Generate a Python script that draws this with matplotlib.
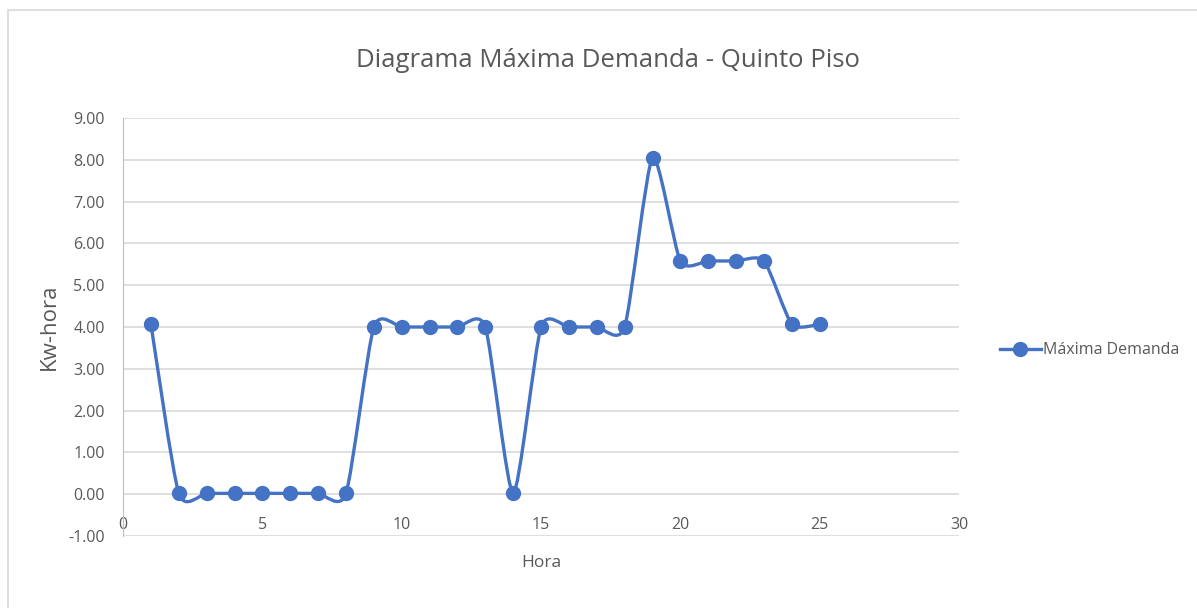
import matplotlib.pyplot as plt
from matplotlib.path import Path
from matplotlib.patches import PathPatch, Rectangle
from matplotlib.lines import Line2D

hora = [1, 2, 3, 4, 5, 6, 7, 8, 9, 10, 11, 12, 13, 14, 15, 16, 17, 18, 19, 20, 21, 22, 23, 24, 25]
demanda = [4.07, 0.02, 0.02, 0.02, 0.02, 0.02, 0.02, 0.02, 4.00, 4.00, 4.00, 4.00, 4.00, 0.02,
           4.00, 4.00, 4.00, 4.00, 8.05, 5.58, 5.58, 5.58, 5.58, 4.07, 4.07]
y_ticks = [-1, 0, 1, 2, 3, 4, 5, 6, 7, 8, 9]
x_ticks = [0, 5, 10, 15, 20, 25, 30]

plt.rcParams['font.family'] = ['Open Sans', 'DejaVu Sans']

azul = '#4472C4'
gris = '#595959'

fig = plt.figure(figsize=(11.97, 6.08), dpi=100)
ax = fig.add_axes([0.1028, 0.1184, 0.6984, 0.6875])

# linea suavizada (bezier parecida a la de Excel)
k = 0.11
n = len(hora)
verts = [(hora[0], demanda[0])]
codes = [Path.MOVETO]
for i in range(n - 1):
    p0 = (hora[max(i - 1, 0)], demanda[max(i - 1, 0)])
    p1 = (hora[i], demanda[i])
    p2 = (hora[i + 1], demanda[i + 1])
    p3 = (hora[min(i + 2, n - 1)], demanda[min(i + 2, n - 1)])
    c1 = (p1[0] + (p2[0] - p0[0]) * k, p1[1] + (p2[1] - p0[1]) * k)
    c2 = (p2[0] - (p3[0] - p1[0]) * k, p2[1] - (p3[1] - p1[1]) * k)
    verts += [c1, c2, p2]
    codes += [Path.CURVE4] * 3
ax.add_patch(PathPatch(Path(verts, codes), fill=False, edgecolor=azul, linewidth=2.4,
                       capstyle='round', joinstyle='round', zorder=3))
ax.plot(hora, demanda, linestyle='none', marker='o', markersize=10, color=azul, zorder=4)

ax.set_xlim(0, 30)
ax.set_ylim(-1, 9)
ax.set_yticks(y_ticks)
ax.set_yticklabels([f'{v:.2f}' for v in y_ticks])
ax.set_xticks(x_ticks)
ax.set_xticklabels([str(v) for v in x_ticks])
ax.tick_params(axis='both', length=0, labelsize=11.5, labelcolor=gris)
ax.tick_params(axis='x', pad=-14)
ax.tick_params(axis='y', pad=13)
ax.yaxis.grid(True, color='#d9d9d9', linewidth=1.2)
ax.set_axisbelow(True)
for s in ['top', 'right', 'bottom']:
    ax.spines[s].set_visible(False)
ax.spines['left'].set_color('#bfbfbf')

ax.set_xlabel('Hora', fontsize=12.5, color=gris, labelpad=14)
ax.set_ylabel('Kw-hora', fontsize=16, color=gris, labelpad=6)
fig.text(0.508, 0.90, 'Diagrama Máxima Demanda - Quinto Piso', ha='center', va='center',
         fontsize=18.5, color=gris)

handle = Line2D([], [], color=azul, linewidth=2.4, marker='o', markersize=10)
fig.legend([handle], ['Máxima Demanda'], loc='center left', bbox_to_anchor=(0.823, 0.424),
           frameon=False, fontsize=11.5, labelcolor=gris, handlelength=2.6, handletextpad=0.1)

fig.add_artist(Rectangle((0.007, -0.01), 1.0, 0.993, transform=fig.transFigure,
                         fill=False, edgecolor='#d9d9d9', linewidth=1.2))

plt.savefig('out.png', dpi=100)
